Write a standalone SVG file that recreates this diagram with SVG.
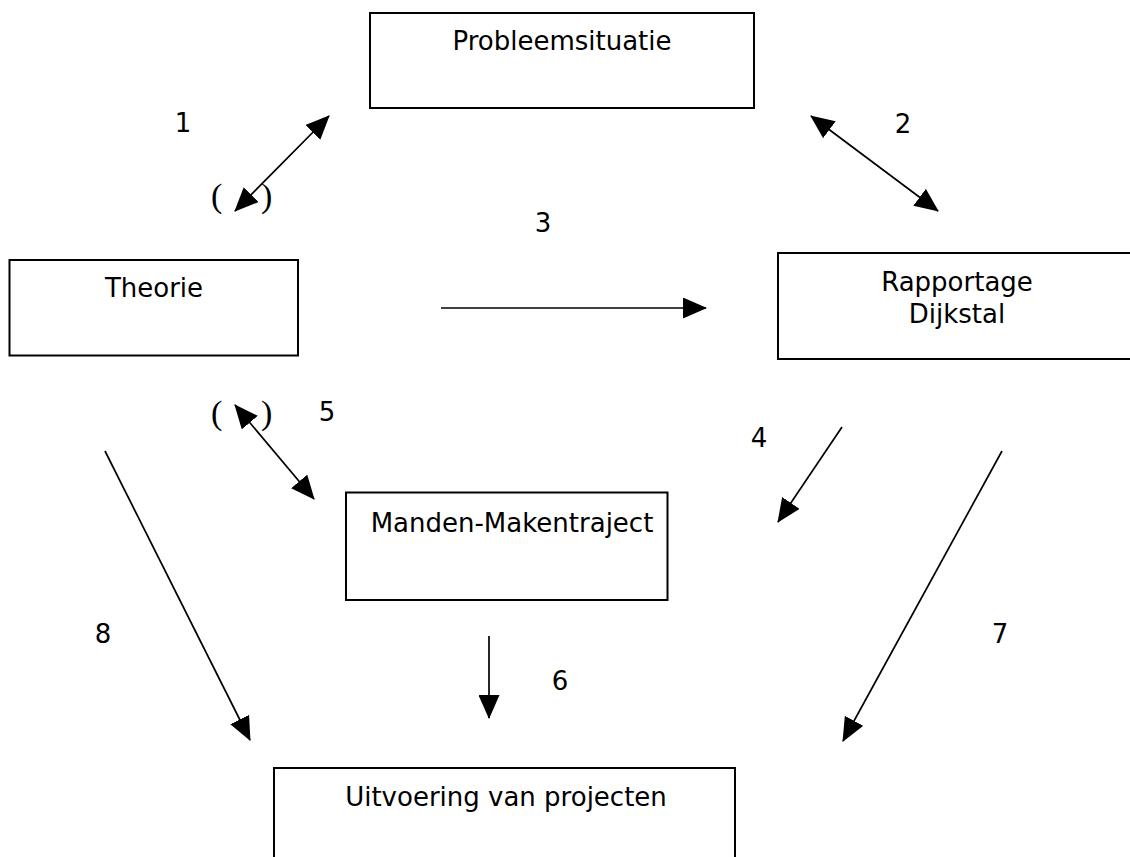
<svg xmlns="http://www.w3.org/2000/svg" width="1130" height="857" viewBox="0 0 1130 857">
<style>
.box{fill:#fff;stroke:#000;stroke-width:2}
.t{font-family:"DejaVu Sans",Verdana,sans-serif;font-size:26px;fill:#000;text-anchor:middle}
.p{font-family:"Liberation Serif","Times New Roman",serif;font-size:34px;fill:#000}
.c{stroke:#000;stroke-width:1.7;fill:none}
</style>
<defs>
<marker id="ah" markerUnits="userSpaceOnUse" markerWidth="24" markerHeight="21" refX="23" refY="10.5" orient="auto-start-reverse" viewBox="0 0 24 21">
<path d="M0,0 L24,10.5 L0,21 z" fill="#000"/>
</marker>
</defs>
<rect width="1130" height="857" fill="#fff"/>
<g id="n-probleem"><rect class="box" x="370" y="13" width="384" height="95"/><text class="t" x="562" y="50">Probleemsituatie</text></g>
<g id="n-theorie"><rect class="box" x="9.5" y="260" width="288.5" height="95.5"/><text class="t" x="154" y="297">Theorie</text></g>
<g id="n-rapportage"><rect class="box" x="778" y="253" width="360" height="106"/><text class="t" x="957" y="291">Rapportage</text><text class="t" x="957" y="323">Dijkstal</text></g>
<g id="n-manden"><rect class="box" x="346" y="492.5" width="321.5" height="107.5"/><text class="t" x="512" y="532">Manden-Makentraject</text></g>
<g id="n-uitvoering"><rect class="box" x="274" y="768" width="461" height="110"/><text class="t" x="506" y="806">Uitvoering van projecten</text></g>
<g id="connectors">
<line class="c" x1="235" y1="211" x2="329" y2="116" marker-start="url(#ah)" marker-end="url(#ah)"/>
<line class="c" x1="811" y1="116" x2="938" y2="211" marker-start="url(#ah)" marker-end="url(#ah)"/>
<line class="c" x1="441" y1="308" x2="706" y2="308" marker-end="url(#ah)"/>
<line class="c" x1="842" y1="427" x2="778" y2="522" marker-end="url(#ah)"/>
<line class="c" x1="235" y1="405" x2="314" y2="499" marker-start="url(#ah)" marker-end="url(#ah)"/>
<line class="c" x1="489" y1="636" x2="489" y2="718" marker-end="url(#ah)"/>
<line class="c" x1="1002" y1="451" x2="843" y2="741" marker-end="url(#ah)"/>
<line class="c" x1="105" y1="451" x2="250" y2="740" marker-end="url(#ah)"/>
</g>
<g id="labels">
<text class="t" x="183" y="132">1</text>
<text class="t" x="903" y="133">2</text>
<text class="t" x="543" y="232">3</text>
<text class="t" x="759" y="447">4</text>
<text class="t" x="327" y="421">5</text>
<text class="t" x="560" y="690">6</text>
<text class="t" x="1000" y="643">7</text>
<text class="t" x="103" y="643">8</text>
<text class="p" y="207"><tspan x="211">(</tspan><tspan x="261">)</tspan></text>
<text class="p" y="424"><tspan x="211">(</tspan><tspan x="261">)</tspan></text>
</g>
</svg>
